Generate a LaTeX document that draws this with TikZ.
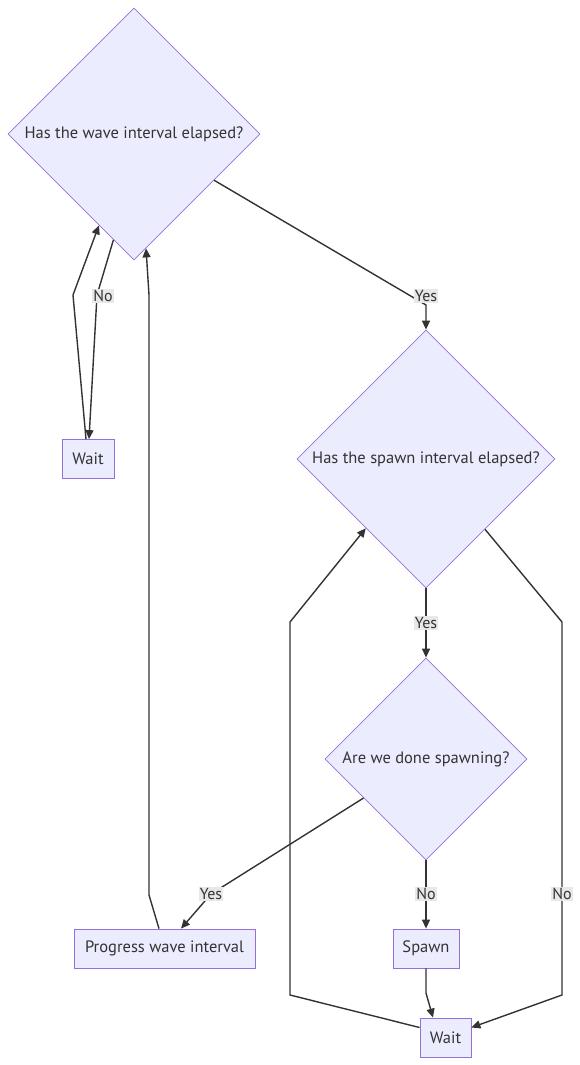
\documentclass[tikz,border=0pt]{standalone}
\usepackage{fontspec}
\setmainfont{PT Sans}
\usetikzlibrary{shapes.geometric,arrows.meta}
\definecolor{nodefill}{HTML}{ECECFF}
\definecolor{nodeline}{HTML}{9370DB}
\definecolor{edgeline}{HTML}{333333}
\definecolor{labelbg}{HTML}{E8E8E8}
\begin{document}
\begin{tikzpicture}[x=1pt,y=-1pt,
  every node/.style={font=\fontsize{16.5}{19}\selectfont, text=edgeline},
  decision/.style={diamond, draw=nodeline, fill=nodefill, line width=0.8pt, inner sep=0pt, minimum width=#1, minimum height=#1},
  action/.style={rectangle, draw=nodeline, fill=nodefill, line width=0.8pt, minimum height=39pt, minimum width=#1, inner sep=0pt},
  flow/.style={draw=edgeline, line width=1.4pt, -{Triangle[length=9pt,width=8pt]}},
  lbl/.style={fill=labelbg, inner sep=1pt, font=\fontsize{16}{18}\selectfont}
]
\useasboundingbox (0,0) rectangle (580,1065);

\node[decision=252pt] (d1) at (134,134) {Has the wave interval elapsed?};
\node[decision=258pt] (d2) at (426,459) {Has the spawn interval elapsed?};
\node[decision=202pt] (d3) at (426,759) {Are we done spawning?};
\node[action=52pt] (w1) at (88,459) {Wait};
\node[action=181pt] (pw) at (164.5,948.5) {Progress wave interval};
\node[action=66pt] (sp) at (426,948.5) {Spawn};
\node[action=51pt] (w2) at (445.5,1037.5) {Wait};

% D1 -> Wait1 (No)
\draw[flow] (d1.259) -- (97,295) -- ([xshift=1pt]w1.north);
\node[lbl] (l1) at (103,296) {No};
% Wait1 -> D1
\draw[flow] ([xshift=-2pt]w1.north) -- (73,295) -- (d1.249);
% D1 -> D2 (Yes)
\draw[flow] (d1.330.7) -- (426,305) -- (d2.north);
\node[lbl] (l2) at (426,296) {Yes};
% D2 -> D3 (Yes)
\draw[flow] (d2.south) -- (d3.north);
\node[lbl] (l3) at (426,623) {Yes};
% D3 -> Progress (Yes)
\draw[flow] (d3.212.8) -- (211,894) -- ([xshift=16.5pt]pw.north);
\node[lbl] (l4) at (211,894) {Yes};
% D3 -> Spawn (No)
\draw[flow] (d3.south) -- (sp.north);
\node[lbl] (l5) at (426,894) {No};
% D2 -> Wait2 (No)
\draw[flow] (d2.310.2) -- (562,622) -- (562,995) -- ([yshift=10pt]w2.east);
\node[lbl] (l6) at (562,894) {No};
% Spawn -> Wait2
\draw[flow] (sp.south) -- (426,993) -- ([xshift=-12.5pt]w2.north);
% Wait2 -> D2
\draw[flow] ([yshift=10pt]w2.west) -- (290,995) -- (290,622) -- (d2.229.8);
% Progress -> D1
\draw[flow] ([xshift=-5.5pt]pw.north) -- (149,895) -- (149,295) -- (d1.276.2);
\end{tikzpicture}
\end{document}
